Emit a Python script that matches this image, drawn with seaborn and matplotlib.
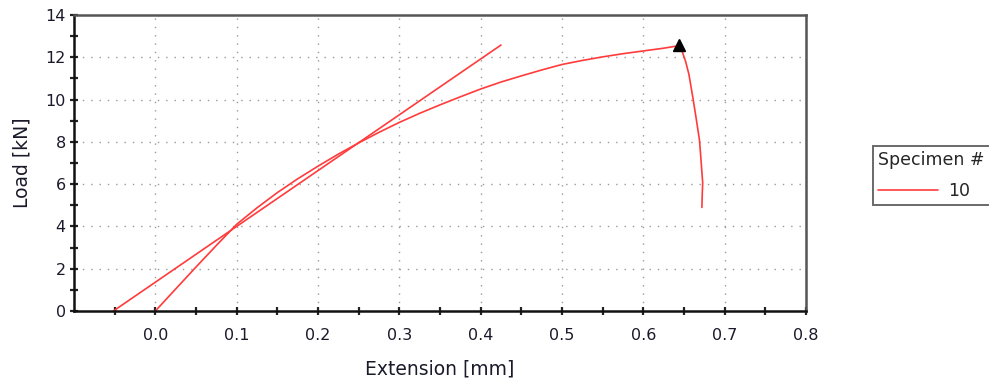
import numpy as np
import pandas as pd
import seaborn as sns
import matplotlib
matplotlib.use("Agg")
import matplotlib.pyplot as plt
from matplotlib.ticker import MultipleLocator, FixedLocator

# Data
curve_ext = [0.0, 0.025, 0.05, 0.075, 0.1, 0.125, 0.15, 0.175, 0.2, 0.225, 0.25,
             0.275, 0.3, 0.325, 0.35, 0.375, 0.4, 0.425, 0.45, 0.475, 0.5, 0.525,
             0.55, 0.575, 0.6, 0.625, 0.644,
             0.648, 0.652, 0.656, 0.661, 0.665, 0.669, 0.671, 0.673, 0.6725, 0.672]
curve_load = [0.0, 1.04, 2.08, 3.1, 4.1, 4.88, 5.6, 6.25, 6.85, 7.42, 7.95,
              8.45, 8.92, 9.35, 9.75, 10.13, 10.5, 10.83, 11.12, 11.4, 11.66, 11.85,
              12.02, 12.17, 12.3, 12.43, 12.55,
              12.25, 11.8, 11.2, 10.07, 9.1, 8.09, 7.1, 6.05, 5.6, 4.9]
slope_ext = [-0.0516, 0.425]
slope_load = [0.0, 12.58]
peak_ext = [0.644]
peak_load = [12.58]
specimen = "10"

sns.set_style("white")
plt.rcParams['font.family'] = ['DejaVu Sans']

fig = plt.figure(figsize=(9.89, 3.79), dpi=100)
ax = fig.add_axes([74/989, 68/379, (806-74)/989, (311-15)/379])

df = pd.DataFrame({"Extension": curve_ext, "Load": curve_load, "Specimen #": specimen})
sns.lineplot(data=df, x="Extension", y="Load", hue="Specimen #", sort=False,
             palette=["#ff3b3b"], linewidth=1.2, ax=ax, estimator=None)
sns.lineplot(x=slope_ext, y=slope_load, color="#ff3b3b", linewidth=1.2, ax=ax,
             legend=False, sort=False, estimator=None)
ax.plot(peak_ext, peak_load, marker="^", color="black", markersize=8, linestyle="none")

ax.set_xlim(-0.1, 0.8)
ax.set_ylim(0, 14)
ax.xaxis.set_major_locator(FixedLocator([0.0, 0.1, 0.2, 0.3, 0.4, 0.5, 0.6, 0.7, 0.8]))
ax.xaxis.set_minor_locator(FixedLocator([-0.05, 0.05, 0.15, 0.25, 0.35, 0.45, 0.55, 0.65, 0.75]))
ax.yaxis.set_major_locator(MultipleLocator(2))
ax.yaxis.set_minor_locator(MultipleLocator(1))
ax.set_xticklabels(["0.0", "0.1", "0.2", "0.3", "0.4", "0.5", "0.6", "0.7", "0.8"])

ax.grid(True, which="major", linestyle=(0, (1, 5)), color="#999999", linewidth=1.0)
ax.tick_params(axis="both", which="both", bottom=True, left=True, top=False, right=False)
ax.tick_params(axis="both", which="major", direction="inout", length=6, width=1.6,
               color="#222222", labelsize=11.5, labelcolor="#1a1a2a")
ax.tick_params(axis="both", which="minor", direction="inout", length=6, width=1.6,
               color="#222222")
ax.tick_params(axis="x", which="major", pad=9)
ax.tick_params(axis="y", which="major", pad=3)

for side in ["left", "bottom"]:
    ax.spines[side].set_color("#111111")
    ax.spines[side].set_linewidth(1.8)
for side in ["top", "right"]:
    ax.spines[side].set_color("#555555")
    ax.spines[side].set_linewidth(1.8)
    ax.spines[side].set_visible(True)

ax.set_xlabel("Extension [mm]", fontsize=13.5, color="#1a1a2a", labelpad=12)
ax.set_ylabel("Load [kN]", fontsize=13.5, color="#1a1a2a", labelpad=10)

leg = ax.legend(title="Specimen #", loc="upper left", bbox_to_anchor=(873/989, 1 - 146/379),
                bbox_transform=fig.transFigure, frameon=True, fancybox=False,
                fontsize=12.5, title_fontsize=12.5, handlelength=3.45, borderpad=0.3,
                handletextpad=0.6, borderaxespad=0, labelspacing=0.75)
leg.get_frame().set_edgecolor("#444444")
leg.get_frame().set_linewidth(1.4)
leg._legend_box.align = "left"

fig.savefig("out.png", dpi=100)
